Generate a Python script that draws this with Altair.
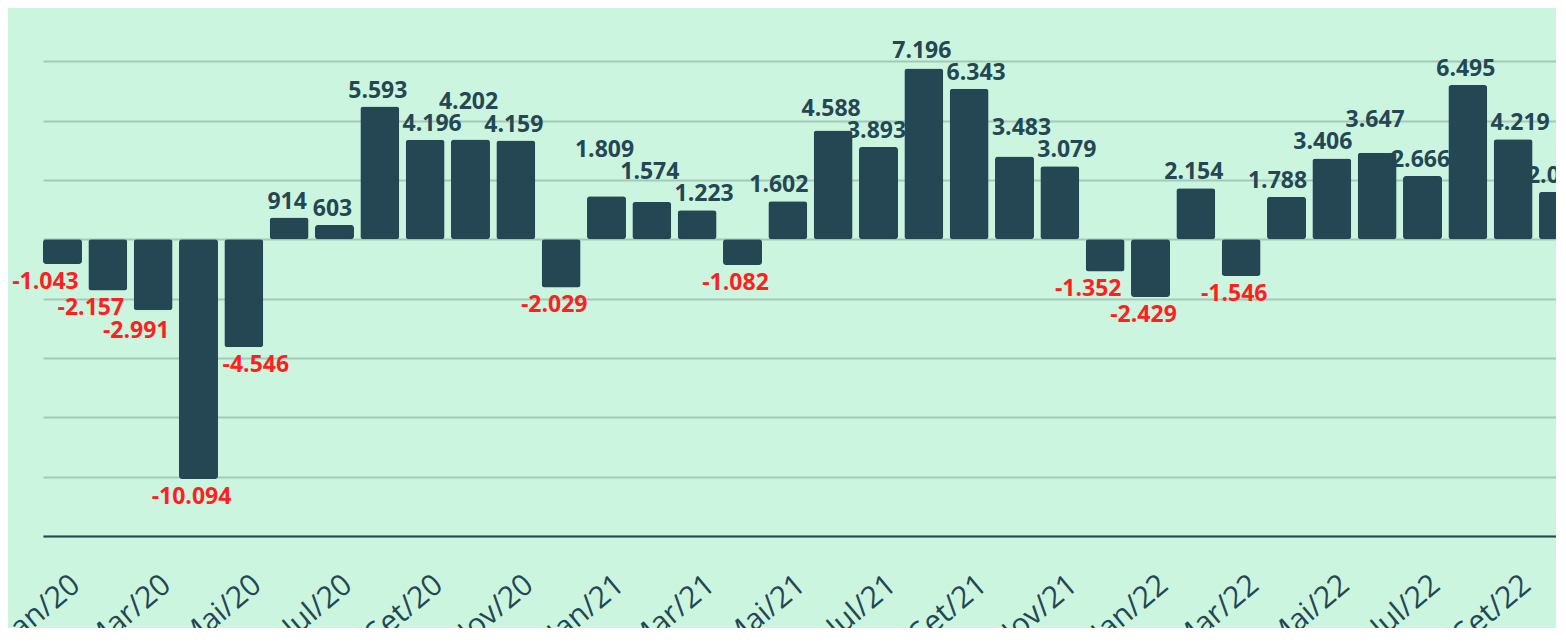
import altair as alt
import pandas as pd

# ---- data ----
months = ["Jan/20", "Fev/20", "Mar/20", "Abr/20", "Mai/20", "Jun/20", "Jul/20", "Ago/20",
          "Set/20", "Out/20", "Nov/20", "Dez/20", "Jan/21", "Fev/21", "Mar/21", "Abr/21",
          "Mai/21", "Jun/21", "Jul/21", "Ago/21", "Set/21", "Out/21", "Nov/21", "Dez/21",
          "Jan/22", "Fev/22", "Mar/22", "Abr/22", "Mai/22", "Jun/22", "Jul/22", "Ago/22",
          "Set/22", "Out/22"]
values = [-1043, -2157, -2991, -10094, -4546, 914, 603, 5593,
          4196, 4202, 4159, -2029, 1809, 1574, 1223, -1082,
          1602, 4588, 3893, 7196, 6343, 3483, 3079, -1352,
          -2429, 2154, -1546, 1788, 3406, 3647, 2666, 6495,
          4219, 2008]
axis_months = months[::2]
grid_values = [-12500, -10000, -7500, -5000, -2500, 0, 2500, 5000, 7500]

# ---- layout constants ----
PLOT_W, PLOT_H = 1513, 528
X_RANGE = 1535
Y_MIN, Y_MAX = -12500, 9744
UPP = (Y_MAX - Y_MIN) / PLOT_H          # data units per pixel
STEP = X_RANGE / (len(months) - 0.14)
BAR_W = STEP * 0.86

BG = "#ccf5e0"
BAR = "#244753"
GRID = "#a2cab8"
RED = "#ff1f1f"
FONT = "Open Sans"

labels = [f"{v:,}".replace(",", ".") for v in values]
n = len(values)


def text_w(s):
    return sum(6.5 if c == "." else (7.5 if c == "-" else 13) for c in s)


def relax(dist, sign, gap):
    """push apart labels of neighbouring bars; the larger bar's label moves outwards"""
    for _ in range(60):
        moved = False
        for i in range(n - 1):
            j = i + 1
            if dist[i] is None or dist[j] is None:
                continue
            if (text_w(labels[i]) + text_w(labels[j])) / 2 <= STEP:
                continue
            if abs(dist[i] - dist[j]) >= gap:
                continue
            big, small = (i, j) if sign * values[i] >= sign * values[j] else (j, i)
            dist[big] = dist[small] + gap
            moved = True
        if not moved:
            break
    return dist


lift = relax([v / UPP + 16 if v > 0 else None for v in values], 1, 22)
drop = relax([-v / UPP + 18 if v < 0 else None for v in values], -1, 23)
label_y = [lift[k] * UPP if values[k] > 0 else -drop[k] * UPP for k in range(n)]


def hits_bar(k, m):
    """does the label of bar k run into the (taller) neighbouring bar m?"""
    if m < 0 or m >= n or values[m] <= 0:
        return False
    if text_w(labels[k]) / 2 <= STEP - BAR_W / 2:
        return False
    return values[m] / UPP > lift[k] - 11


side = []
for k, v in enumerate(values):
    if v > 0:
        left, right = hits_bar(k, k - 1), hits_bar(k, k + 1)
        if left and not right and k + 1 < n:
            side.append("posR")
        elif right and not left and k > 0:
            side.append("posL")
        else:
            side.append("posC")
    elif k + 1 < n and values[k + 1] < v:
        side.append("negL")
    elif k > 0 and values[k - 1] < v:
        side.append("negR")
    else:
        side.append("negC")

df = pd.DataFrame({
    "month": months,
    "value": values,
    "label": labels,
    "label_y": label_y,
    "side": side,
})

x_scale = alt.Scale(domain=months, range=[0, X_RANGE], paddingInner=0.14, paddingOuter=0)
y_scale = alt.Scale(domain=[Y_MIN, Y_MAX], nice=False, zero=False)

x_axis = alt.Axis(values=axis_months, labelAngle=-40, labelAlign="right",
                  labelBaseline="top", labelPadding=33, labelOffset=4, ticks=False, tickSize=0,
                  labelFontSize=30, labelColor=BAR, labelFont=FONT,
                  labelOverlap=False, labelFlush=False, labelBound=False,
                  domain=True, domainColor=BAR, domainWidth=2, grid=False, title=None)
y_axis = alt.Axis(values=grid_values, labels=False, ticks=False, domain=False,
                  grid=True, gridColor=GRID, gridWidth=2, title=None)

X = alt.X("month:N", scale=x_scale, sort=months, title=None, axis=x_axis)
YL = alt.Y("label_y:Q", scale=y_scale, title=None, axis=y_axis)

base = alt.Chart(df)

bars = base.mark_bar(color=BAR, cornerRadius=3).encode(
    x=X,
    y=alt.Y("value:Q", scale=y_scale, title=None, axis=y_axis),
)


def label_layer(which, color, dx):
    return base.transform_filter(alt.datum.side == which).mark_text(
        font=FONT, fontWeight="bold", fontSize=23, color=color,
        baseline="middle", align="center", dx=dx
    ).encode(x=X, y=YL, text="label:N")


layers = [bars,
          label_layer("posC", BAR, -2),
          label_layer("posL", BAR, -9),
          label_layer("posR", BAR, 7),
          label_layer("negC", RED, -7),
          label_layer("negL", RED, -17),
          label_layer("negR", RED, 12)]

chart = alt.layer(*layers).properties(
    width=PLOT_W,
    height=PLOT_H,
    autosize=alt.AutoSizeParams(type="none"),
    padding={"left": 35, "top": 0, "right": 0, "bottom": 92},
    background=BG,
).configure_view(stroke=None)

chart.save("out.html", embed_options={"renderer": "svg", "actions": False})
